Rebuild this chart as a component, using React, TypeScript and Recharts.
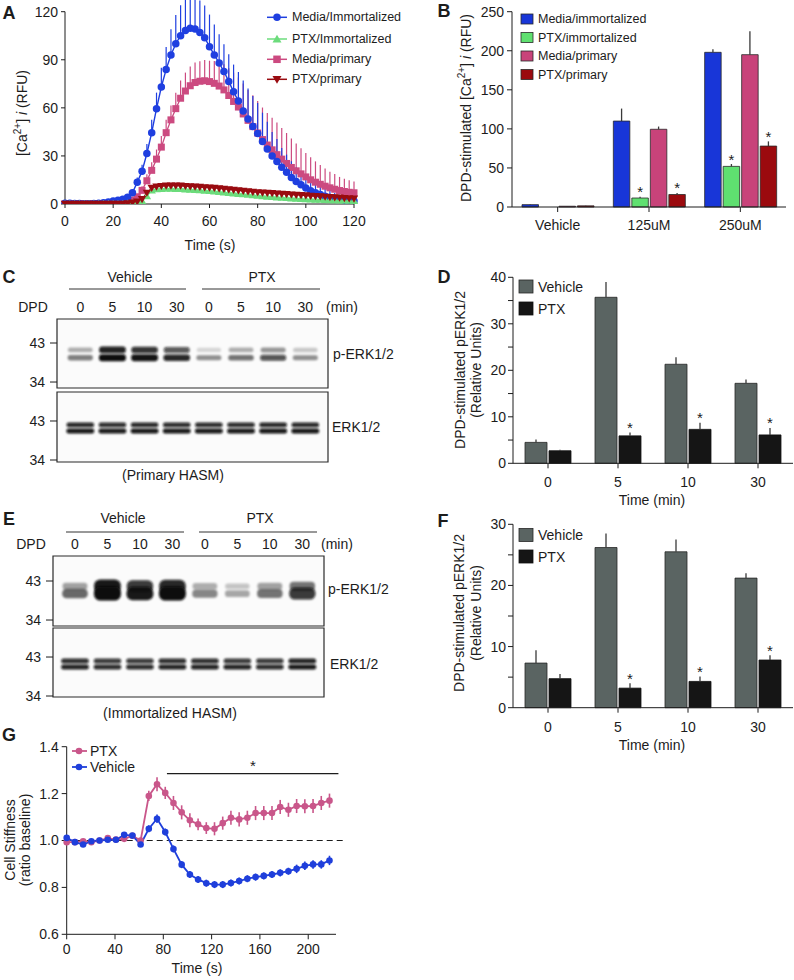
import React from 'react';
import {
  LineChart, Line, BarChart, Bar, XAxis, YAxis, ErrorBar, ScatterChart, Scatter,
  ReferenceArea, ReferenceLine, LabelList,
} from 'recharts';

const FONT = '"Liberation Sans", Arial, Helvetica, sans-serif';
const INK = '#1c1c1c';

// ---------------- Panel A: [Ca2+]i time course ----------------
const timeA = [0,2,4,6,8,10,12,14,16,18,20,22,24,26,28,30,32,34,36,38,40,42,44,46,48,50,52,54,56,58,60,62,64,66,68,70,72,74,76,78,80,82,84,86,88,90,92,94,96,98,100,102,104,106,108,110,112,114,116,118,120];
const mediaImmA = [0.5,0.5,0.3,0.3,0.2,0.2,0.3,0.4,0.8,1.3,1.8,2.4,3.0,4.2,7,13.5,20.5,31.5,44.5,59.5,73,84,93,100,105,108.3,109.6,109.2,107,103.8,98.2,93,88,82.7,76.5,70,64.3,58,53,48.4,44,39,34.3,30,26.5,23,19.8,16.6,14,12,10,8.3,7,5.9,4.9,4.1,3.4,2.9,2.5,2.1,1.8];
const mediaImmErrA = [0.8,0.8,0.8,0.8,0.8,0.8,0.8,0.8,0.8,0.8,0.8,0.8,0.8,0.8,1.5,3,4,6,8,10,12,14,16,18,19,20,20,20,20,20,20,19,18,17,17,17,18,19,19,19,19,18,17,15,14,12,11,10,9,8,7,6,5.5,5,4.5,4,3.5,3,3,2.5,2];
const ptxImmA = [0,0,0,0,0,0,0,0,0,0,0,0,0,0.2,0.5,1,2,5,8.5,9.3,9.5,9.6,9.6,9.5,9.4,9.2,9,8.8,8.6,8.4,8.2,7.9,7.6,7.3,7,6.7,6.4,6.1,5.8,5.5,5.2,4.9,4.6,4.4,4.2,4.0,3.8,3.6,3.4,3.2,3.0,2.9,2.8,2.7,2.6,2.5,2.4,2.3,2.2,2.1,2.0];
const ptxImmErrA = [0.4,0.4,0.4,0.4,0.4,0.4,0.4,0.4,0.4,0.4,0.4,0.4,0.4,0.4,0.4,0.4,0.4,0.9,0.9,0.9,0.9,0.9,0.9,0.9,0.9,0.9,0.9,0.9,0.9,0.9,0.9,0.9,0.9,0.9,0.9,0.9,0.9,0.9,0.9,0.9,0.9,0.9,0.9,0.9,0.9,0.9,0.9,0.9,0.9,0.9,0.9,0.9,0.9,0.9,0.9,0.9,0.9,0.9,0.9,0.9,0.9];
const mediaPrimA = [0,0,0,0,0,0,0,0,0,0,0,0,0.3,1,2.5,4.5,8.5,14.5,21,28,35.5,44.5,52.5,59.5,66,70.5,73.8,75.8,76.6,76.9,76.4,75.3,73.6,71.2,67.7,64,60.5,56.2,52.2,48.3,44.3,40.2,36.8,33.8,30.8,28,25.3,22.8,20.7,18.8,16.9,15.1,13.6,12.3,11.1,10.1,9.2,8.4,7.8,7.3,7.0];
const mediaPrimErrA = [0.8,0.8,0.8,0.8,0.8,0.8,0.8,0.8,0.8,0.8,0.8,0.8,0.8,0.8,0.8,1.5,2.5,4,5,6,7,8,9,10,11,11.5,12,12.5,12.5,13,13,14,15,16,17,18,18.5,19,19,19.5,20,20,20,20,20,19.5,19,18,17,16,15,14,13,12,11,10,9.5,8.5,8,7.5,7];
const ptxPrimA = [0,0,0,0,0,0,0,0,0,0,0,0,0,0.3,0.8,1.5,3,7,10,10.8,11.2,11.4,11.5,11.5,11.4,11.2,11,10.8,10.6,10.4,10.2,10,9.7,9.4,9.1,8.8,8.5,8.2,7.9,7.6,7.3,7.1,6.9,6.7,6.5,6.3,6.1,5.9,5.7,5.5,5.3,5.1,4.9,4.7,4.5,4.3,4.1,3.9,3.7,3.5,3.3];
const ptxPrimErrA = [0.4,0.4,0.4,0.4,0.4,0.4,0.4,0.4,0.4,0.4,0.4,0.4,0.4,0.4,0.4,0.4,0.4,1,1,1,1,1,1,1,1,1,1,1,1,1,1,1,1,1,1,1,1,1,1,1,1,1,1,1,1,1,1,1,1,1,1,1,1,1,1,1,1,1,1,1,1];
const ticksTimeA = [0, 20, 40, 60, 80, 100, 120];
const ticksCaA = [0, 30, 60, 90, 120];

// ---------------- Panel B: DPD-stimulated [Ca2+]i ----------------
const doseB = ['Vehicle', '125uM', '250uM'];
const mediaImmB = [3, 110, 198];
const mediaImmErrB = [0.5, 16, 4];
const ptxImmB = [0, 11.5, 52];
const ptxImmErrB = [0, 1.5, 3];
const mediaPrimB = [1, 99.5, 195];
const mediaPrimErrB = [0.3, 3.5, 30];
const ptxPrimB = [1.5, 16, 78];
const ptxPrimErrB = [0.3, 2, 6];
const ptxImmSigB = [false, true, true];
const ptxPrimSigB = [false, true, true];
const ticksB = [0, 50, 100, 150, 200, 250];

// ---------------- Panels D / F: pERK quantification ----------------
const timeMin = ['0', '5', '10', '30'];
const vehicleD = [4.5, 35.7, 21.3, 17.2];
const vehicleErrD = [0.6, 3.3, 1.5, 0.8];
const ptxD = [2.7, 5.9, 7.3, 6.1];
const ptxErrD = [0.2, 0.7, 1.4, 1.5];
const ptxSigD = [false, true, true, true];
const vehicleF = [7.3, 26.2, 25.5, 21.2];
const vehicleErrF = [2.1, 2.3, 2.0, 0.8];
const ptxF = [4.75, 3.2, 4.3, 7.8];
const ptxErrF = [0.75, 0.8, 0.8, 0.8];
const ptxSigF = [false, true, true, true];
const ticksD = [0, 5, 10, 15, 20, 25, 30, 35, 40];
const ticksF = [0, 5, 10, 15, 20, 25, 30];

// ---------------- Panels C / E: western blots ----------------
const laneLabels = ['0', '5', '10', '30', '0', '5', '10', '30'];
const laneIds = [1, 2, 3, 4, 5, 6, 7, 8];
const mwTicks = [34, 43];
const cPErkUpper = [0.25, 0.9, 0.82, 0.65, 0.08, 0.25, 0.35, 0.14];
const cPErkLower = [0.45, 1.0, 0.97, 0.88, 0.38, 0.5, 0.68, 0.38];
const cErkUpper = [0.88, 0.85, 0.87, 0.86, 0.86, 0.86, 0.88, 0.87];
const cErkLower = [0.95, 0.93, 0.95, 0.94, 0.94, 0.94, 0.95, 0.95];
const ePErkUpper = [0.3, 0.95, 0.8, 0.88, 0.25, 0.15, 0.3, 0.5];
const ePErkLower = [0.55, 1.0, 0.95, 1.0, 0.42, 0.28, 0.5, 0.8];
const eErkUpper = [0.85, 0.8, 0.8, 0.85, 0.85, 0.8, 0.8, 0.9];
const eErkLower = [0.9, 0.86, 0.86, 0.9, 0.9, 0.9, 0.86, 0.95];
// apparent band positions on each blot (kDa scale)
const cPErkMw = [41.4, 39.6];
const cErkMw = [42.1, 40.7];
const ePErkMw = [41.8, 40.1];
const eErkMw = [42.1, 40.7];

// ---------------- Panel G: cell stiffness ----------------
const timeG = [0,6.8,13.6,20.4,27.2,34,40.8,47.6,54.4,61.2,68,74.8,81.6,88.4,95.2,102,108.8,115.6,122.4,129.2,136,142.8,149.6,156.4,163.2,170,176.8,183.6,190.4,197.2,204,210.8,217.6];
const ptxG = [0.993,0.993,0.997,0.993,1.0,1.01,1.004,1.007,1.02,1.0,1.19,1.24,1.203,1.16,1.12,1.086,1.069,1.053,1.05,1.074,1.097,1.09,1.097,1.117,1.117,1.117,1.143,1.131,1.147,1.146,1.147,1.16,1.17];
const ptxErrG = [0.006,0.006,0.006,0.006,0.006,0.008,0.008,0.008,0.01,0.01,0.022,0.03,0.026,0.03,0.03,0.03,0.025,0.025,0.028,0.028,0.03,0.03,0.03,0.03,0.03,0.03,0.03,0.03,0.03,0.03,0.03,0.03,0.03];
const vehicleG = [1.011,0.993,0.983,0.997,1.0,1.003,1.003,1.024,1.021,0.983,1.05,1.093,1.036,0.964,0.897,0.855,0.834,0.818,0.812,0.812,0.819,0.827,0.837,0.844,0.849,0.855,0.862,0.869,0.879,0.892,0.898,0.898,0.915];
const vehicleErrG = [0.008,0.006,0.006,0.006,0.006,0.006,0.008,0.008,0.01,0.01,0.015,0.018,0.015,0.015,0.015,0.015,0.015,0.015,0.015,0.015,0.015,0.015,0.015,0.015,0.015,0.015,0.015,0.015,0.018,0.018,0.018,0.018,0.02];
const ticksTimeG = [0, 40, 80, 120, 160, 200];
const ticksStiff = [0.6, 0.8, 1.0, 1.2, 1.4];

// ---------------- colours ----------------
const BLUE = '#1f3fe0';
const GREEN = '#6cdc7c';
const PINK = '#cc4a80';
const DRED = '#990b10';
const B_BLUE = '#1836d8';
const B_GREEN = '#5fe070';
const B_PINK = '#c8437a';
const B_RED = '#9b0a0e';
const GRAYBAR = '#5a6462';
const BLACKBAR = '#151515';
const G_PINK = '#c9568a';
const G_BLUE = '#1f3fdb';

const tickStyle = { fontSize: 14, fill: INK, fontFamily: FONT };
const axisLine = { stroke: INK, strokeWidth: 1 };

// ---------------- data tables ----------------
const rowsA = timeA.map((t, i) => ({
  t,
  mi: mediaImmA[i], miE: [0, mediaImmErrA[i]],
  pi: ptxImmA[i], piE: [0, ptxImmErrA[i]],
  mp: mediaPrimA[i], mpE: [0, mediaPrimErrA[i]],
  pp: ptxPrimA[i], ppE: [0, ptxPrimErrA[i]],
}));
const rowsB = doseB.map((d, i) => ({
  d,
  mi: mediaImmB[i], miE: [0, mediaImmErrB[i]],
  pi: ptxImmB[i], piE: [0, ptxImmErrB[i]],
  mp: mediaPrimB[i], mpE: [0, mediaPrimErrB[i]],
  pp: ptxPrimB[i], ppE: [0, ptxPrimErrB[i]],
}));
const rowsD = timeMin.map((m, i) => ({ m, v: vehicleD[i], vE: [0, vehicleErrD[i]], p: ptxD[i], pE: [0, ptxErrD[i]] }));
const rowsF = timeMin.map((m, i) => ({ m, v: vehicleF[i], vE: [0, vehicleErrF[i]], p: ptxF[i], pE: [0, ptxErrF[i]] }));
const rowsG = timeG.map((t, i) => ({ t, p: ptxG[i], pE: ptxErrG[i], v: vehicleG[i], vE: vehicleErrG[i] }));

const bandPoints = (upper: number[], lower: number[], mw: number[]) => [
  ...laneIds.map((lane, i) => ({ lane, mw: mw[0], a: upper[i] })),
  ...laneIds.map((lane, i) => ({ lane, mw: mw[1], a: lower[i] })),
];

// ---------------- marker shapes ----------------
const markerPath = (shape: string, cx: number, cy: number, s: number) => {
  if (shape === 'up') return `M${cx},${cy - s * 0.58}L${cx + s * 0.6},${cy + s * 0.45}L${cx - s * 0.6},${cy + s * 0.45}Z`;
  return `M${cx},${cy + s * 0.58}L${cx + s * 0.6},${cy - s * 0.45}L${cx - s * 0.6},${cy - s * 0.45}Z`;
};
const Marker = ({ shape, cx, cy, s, color }: any) => {
  if (shape === 'circle') return <circle cx={cx} cy={cy} r={s / 2} fill={color} />;
  if (shape === 'square') return <rect x={cx - s / 2} y={cy - s / 2} width={s} height={s} fill={color} />;
  return <path d={markerPath(shape, cx, cy, s)} fill={color} />;
};
const mkDot = (shape: string, color: string, s: number) => (p: any) => {
  const { cx, cy, index } = p;
  if (cx == null || cy == null || isNaN(cy)) return <g key={`e${shape}${index}`} />;
  return <g key={`${shape}${index}`}><Marker shape={shape} cx={cx} cy={cy} s={s} color={color} /></g>;
};

// asterisk above error bar, using the bar's own pixel scale
const starLabel = (values: number[], errs: number[], sig: boolean[]) => (props: any) => {
  const vb = props.viewBox || props;
  const x = vb.x ?? props.x, y0 = vb.y ?? props.y, w = vb.width ?? props.width, h = vb.height ?? props.height;
  const idx = values.indexOf(Number(props.value));
  if (idx < 0 || !sig[idx]) return null;
  const v = values[idx];
  const top = Math.min(y0, y0 + h);
  const pxPer = v ? Math.abs(h) / v : 0;
  const eTop = top - errs[idx] * pxPer;
  return (
    <text key={`st${idx}`} x={x + w / 2} y={eTop + 0.5} textAnchor="middle" fontSize={15} fill={INK} fontFamily={FONT}>*</text>
  );
};

// blot band shape
const mkBand = (base: number, gain: number, width: number) => (p: any) => {
  const { cx, cy, payload } = p;
  if (cx == null || cy == null) return <g />;
  const a = payload.a;
  const h = base + gain * a;
  const w = width + 3 * a;
  return (
    <rect x={cx - w / 2} y={cy - h / 2} width={w} height={h} rx={h / 2.2}
      fill="#0b0b0b" fillOpacity={0.08 + 0.92 * a} filter="url(#bandBlur)" />
  );
};

// ---------------- charts ----------------
function PanelA() {
  return (
    <LineChart width={400} height={250} data={rowsA} margin={{ top: 11.7, right: 46, bottom: 16, left: 0 }}>
      <XAxis dataKey="t" type="number" domain={[0, 120]} ticks={ticksTimeA} tick={tickStyle}
        axisLine={axisLine} tickLine={axisLine} tickSize={4} tickMargin={8} height={30} />
      <YAxis type="number" domain={[0, 120]} ticks={ticksCaA} allowDataOverflow tick={tickStyle}
        axisLine={axisLine} tickLine={axisLine} tickSize={4} tickMargin={3} width={65} />
      <Line dataKey="mp" stroke={PINK} strokeWidth={1.3} dot={mkDot('square', PINK, 7)} isAnimationActive={false}>
        <ErrorBar dataKey="mpE" width={0} stroke={PINK} strokeWidth={1.2} direction="y" />
      </Line>
      <Line dataKey="mi" stroke={BLUE} strokeWidth={1.4} dot={mkDot('circle', BLUE, 7.5)} isAnimationActive={false}>
        <ErrorBar dataKey="miE" width={0} stroke={BLUE} strokeWidth={1.2} direction="y" />
      </Line>
      <Line dataKey="pi" stroke={GREEN} strokeWidth={1.3} dot={mkDot('up', GREEN, 7)} isAnimationActive={false}>
        <ErrorBar dataKey="piE" width={0} stroke={GREEN} strokeWidth={1} direction="y" />
      </Line>
      <Line dataKey="pp" stroke={DRED} strokeWidth={1.3} dot={mkDot('down', DRED, 7)} isAnimationActive={false}>
        <ErrorBar dataKey="ppE" width={0} stroke={DRED} strokeWidth={1} direction="y" />
      </Line>
    </LineChart>
  );
}

function PanelB() {
  const bar = (key: string, errKey: string, color: string, vals: number[], errs: number[], sig: boolean[] | null) => (
    <Bar dataKey={key} fill={color} stroke="#2a2a2a" strokeWidth={0.8} isAnimationActive={false}>
      <ErrorBar dataKey={errKey} width={0} stroke="#3a3a3a" strokeWidth={1.3} direction="y" />
      {sig && <LabelList dataKey={key} content={starLabel(vals, errs, sig)} />}
    </Bar>
  );
  return (
    <BarChart width={394} height={250} data={rowsB} margin={{ top: 11.7, right: 8, bottom: 13, left: 0 }}
      barSize={16.5} barGap={2}>
      <XAxis dataKey="d" tick={tickStyle} axisLine={axisLine} tickLine={axisLine} tickSize={5} tickMargin={8} height={30} />
      <YAxis type="number" domain={[0, 250]} ticks={ticksB} tick={tickStyle}
        axisLine={axisLine} tickLine={axisLine} tickSize={5} tickMargin={3} width={112} />
      {bar('mi', 'miE', B_BLUE, mediaImmB, mediaImmErrB, null)}
      {bar('pi', 'piE', B_GREEN, ptxImmB, ptxImmErrB, ptxImmSigB)}
      {bar('mp', 'mpE', B_PINK, mediaPrimB, mediaPrimErrB, null)}
      {bar('pp', 'ppE', B_RED, ptxPrimB, ptxPrimErrB, ptxPrimSigB)}
    </BarChart>
  );
}

function ErkBars({ rows, ptx, ptxErr, sig, max, ticks, height, top, bottom }: any) {
  return (
    <BarChart width={394} height={height} data={rows} margin={{ top, right: 1, bottom, left: 0 }} barSize={22} barGap={2}>
      <XAxis dataKey="m" tick={tickStyle} axisLine={axisLine} tickLine={axisLine} tickSize={5} tickMargin={9} height={30} />
      <YAxis type="number" domain={[0, max]} ticks={ticks} tick={tickStyle}
        tickFormatter={(v: number) => (v % 10 === 0 ? String(v) : '')}
        axisLine={axisLine} tickLine={axisLine} tickSize={5} tickMargin={2} width={113} />
      <Bar dataKey="v" fill={GRAYBAR} stroke="#262626" strokeWidth={0.8} isAnimationActive={false}>
        <ErrorBar dataKey="vE" width={0} stroke="#3a3a3a" strokeWidth={1.3} direction="y" />
      </Bar>
      <Bar dataKey="p" fill={BLACKBAR} stroke="#111" strokeWidth={0.8} isAnimationActive={false}>
        <ErrorBar dataKey="pE" width={0} stroke="#3a3a3a" strokeWidth={1.3} direction="y" />
        <LabelList dataKey="p" content={starLabel(ptx, ptxErr, sig)} />
      </Bar>
    </BarChart>
  );
}

function Blot({ width, height, top, bottom, left, xDom, yDom, points, showLanes, band }: any) {
  return (
    <ScatterChart width={width} height={height} margin={{ top, right: width - xDom.right, bottom, left: 0 }}>
      {showLanes ? (
        <XAxis type="number" dataKey="lane" orientation="top" domain={xDom.d} allowDataOverflow ticks={laneIds}
          tickFormatter={(v: number) => laneLabels[v - 1]} tick={tickStyle}
          axisLine={false} tickLine={false} tickSize={0} tickMargin={7} height={20} />
      ) : (
        <XAxis type="number" dataKey="lane" domain={xDom.d} allowDataOverflow hide />
      )}
      <YAxis type="number" dataKey="mw" domain={yDom} allowDataOverflow ticks={mwTicks} tick={tickStyle}
        axisLine={false} tickLine={axisLine} tickSize={7} tickMargin={5} width={left} />
      <ReferenceArea x1={xDom.d[0]} x2={xDom.d[1]} y1={yDom[0]} y2={yDom[1]} fill="#fbfbfb" fillOpacity={1}
        stroke="#2a2a2a" strokeWidth={1.2} ifOverflow="visible" />
      <Scatter data={points} shape={band} isAnimationActive={false} />
    </ScatterChart>
  );
}

function PanelG() {
  const dot = (color: string) => (p: any) => {
    const { cx, cy, index } = p;
    if (cx == null || cy == null) return <g key={`g${index}`} />;
    return <circle key={`g${color}${index}`} cx={cx} cy={cy} r={3.3} fill={color} />;
  };
  return (
    <LineChart width={400} height={260} data={rowsG} margin={{ top: 26.7, right: 64, bottom: 15.7, left: 0 }}>
      <XAxis dataKey="t" type="number" domain={[0, 223]} ticks={ticksTimeG} tick={tickStyle}
        axisLine={axisLine} tickLine={axisLine} tickSize={5} tickMargin={5} height={30} />
      <YAxis type="number" domain={[0.6, 1.4]} ticks={ticksStiff} tick={tickStyle}
        tickFormatter={(v: number) => v.toFixed(1)}
        axisLine={axisLine} tickLine={axisLine} tickSize={5} tickMargin={3} width={66.7} />
      <ReferenceLine segment={[{ x: 0, y: 1.0 }, { x: 229, y: 1.0 }]} stroke={INK} strokeWidth={1.2}
        strokeDasharray="6 4" ifOverflow="visible" />
      <ReferenceLine segment={[{ x: 83, y: 1.285 }, { x: 225, y: 1.285 }]} stroke={INK} strokeWidth={1.3}
        ifOverflow="visible" />
      <Line dataKey="p" stroke={G_PINK} strokeWidth={1.8} dot={dot(G_PINK)} isAnimationActive={false}>
        <ErrorBar dataKey="pE" width={0} stroke={G_PINK} strokeWidth={1.6} direction="y" />
      </Line>
      <Line dataKey="v" stroke={G_BLUE} strokeWidth={1.8} dot={dot(G_BLUE)} isAnimationActive={false}>
        <ErrorBar dataKey="vE" width={0} stroke={G_BLUE} strokeWidth={1.6} direction="y" />
      </Line>
    </LineChart>
  );
}

// ---------------- overlay text ----------------
const T = ({ x, y, children, size = 14, anchor = 'middle', weight = 'normal', rot = false }: any) => (
  <text x={x} y={y} fontSize={size} textAnchor={anchor} fontWeight={weight} dominantBaseline="central"
    fill={INK} fontFamily={FONT} transform={rot ? `rotate(-90 ${x} ${y})` : undefined}>{children}</text>
);
const CaLabel = ({ prefix }: any) => (
  <>
    {prefix}[Ca<tspan dy={-5} fontSize={10}>2+</tspan><tspan dy={5}>] </tspan><tspan fontStyle="italic">i</tspan> (RFU)
  </>
);

function Overlay() {
  const legA = [
    { name: 'Media/Immortalized', color: BLUE, shape: 'circle', y: 17.3 },
    { name: 'PTX/Immortalized', color: GREEN, shape: 'up', y: 39 },
    { name: 'Media/primary', color: PINK, shape: 'square', y: 59.3 },
    { name: 'PTX/primary', color: DRED, shape: 'down', y: 79.3 },
  ];
  const legB = [
    { name: 'Media/immortalized', color: B_BLUE, y: 19 },
    { name: 'PTX/immortalized', color: B_GREEN, y: 37.5 },
    { name: 'Media/primary', color: B_PINK, y: 56 },
    { name: 'PTX/primary', color: B_RED, y: 74.5 },
  ];
  const erkLeg = (y1: number, y2: number) => (
    <>
      <rect x={519} y={y1 - 6.5} width={14} height={13} fill={GRAYBAR} stroke="#262626" strokeWidth={0.8} />
      <T x={538} y={y1} anchor="start">Vehicle</T>
      <rect x={519} y={y2 - 6.5} width={14} height={13} fill={BLACKBAR} stroke="#111" strokeWidth={0.8} />
      <T x={538} y={y2} anchor="start">PTX</T>
    </>
  );
  const header = (yT: number, yLine: number, yD: number, v: any, p: any, dpdX: number, minX: number) => (
    <>
      <T x={v.cx} y={yT}>Vehicle</T>
      <T x={p.cx} y={yT}>PTX</T>
      <line x1={v.x1} x2={v.x2} y1={yLine} y2={yLine} stroke="#333" strokeWidth={1} />
      <line x1={p.x1} x2={p.x2} y1={yLine} y2={yLine} stroke="#333" strokeWidth={1} />
      <T x={dpdX} y={yD}>DPD</T>
      <T x={minX} y={yD}>(min)</T>
    </>
  );
  return (
    <svg width={794} height={980} style={{ position: 'absolute', left: 0, top: 0, pointerEvents: 'none' }}>
      {/* panel letters */}
      <T x={9} y={12.5} size={18} weight="bold">A</T>
      <T x={444} y={11} size={18} weight="bold">B</T>
      <T x={9} y={277} size={18} weight="bold">C</T>
      <T x={444} y={277} size={18} weight="bold">D</T>
      <T x={9} y={519} size={18} weight="bold">E</T>
      <T x={443} y={521} size={18} weight="bold">F</T>
      <T x={9} y={735} size={18} weight="bold">G</T>

      {/* A */}
      <T x={22} y={113} rot><CaLabel prefix="" /></T>
      <T x={210} y={245}>Time (s)</T>
      {legA.map((l) => (
        <g key={l.name}>
          <line x1={267} x2={287} y1={l.y} y2={l.y} stroke={l.color} strokeWidth={1.5} />
          <Marker shape={l.shape} cx={277} cy={l.y} s={7.5} color={l.color} />
          <T x={292} y={l.y} size={12.5} anchor="start">{l.name}</T>
        </g>
      ))}

      {/* B */}
      <T x={466} y={108} rot><CaLabel prefix="DPD-stimulated " /></T>
      {legB.map((l) => (
        <g key={l.name}>
          <rect x={521} y={l.y - 5} width={12} height={10} fill={l.color} stroke="#2a2a2a" strokeWidth={0.8} />
          <T x={538} y={l.y} size={12.5} anchor="start">{l.name}</T>
        </g>
      ))}

      {/* C */}
      {header(277, 289, 307, { cx: 130, x1: 69, x2: 186 }, { cx: 262, x1: 202, x2: 320 }, 33, 342)}
      <T x={333} y={354} anchor="start">p-ERK1/2</T>
      <T x={332} y={427} anchor="start">ERK1/2</T>
      <T x={173} y={475}>(Primary HASM)</T>

      {/* D */}
      <T x={460} y={370} rot>DPD-stimulated pERK1/2</T>
      <T x={476} y={370} rot>(Relative Units)</T>
      <T x={652} y={500}>Time (min)</T>
      {erkLeg(286.5, 308.5)}

      {/* E */}
      {header(518, 532, 544, { cx: 123, x1: 66, x2: 184 }, { cx: 260, x1: 199, x2: 317 }, 31, 337)}
      <T x={328} y={589} anchor="start">p-ERK1/2</T>
      <T x={330} y={664} anchor="start">ERK1/2</T>
      <T x={170} y={713}>(Immortalized HASM)</T>

      {/* F */}
      <T x={459} y={613} rot>DPD-stimulated pERK1/2</T>
      <T x={476} y={613} rot>(Relative Units)</T>
      <T x={652} y={745}>Time (min)</T>
      {erkLeg(535, 556.5)}

      {/* G */}
      <T x={10} y={840} rot>Cell Stiffness</T>
      <T x={25} y={840} rot>(ratio baseline)</T>
      <T x={197} y={968}>Time (s)</T>
      <T x={253} y={765} size={15}>*</T>
      <line x1={72} x2={87} y1={751} y2={751} stroke={G_PINK} strokeWidth={1.8} />
      <circle cx={79} cy={751} r={3.3} fill={G_PINK} />
      <T x={90} y={751} anchor="start">PTX</T>
      <line x1={72} x2={87} y1={767} y2={767} stroke={G_BLUE} strokeWidth={1.8} />
      <circle cx={79} cy={767} r={3.3} fill={G_BLUE} />
      <T x={90} y={767} anchor="start">Vehicle</T>
    </svg>
  );
}

const abs = (left: number, top: number): React.CSSProperties => ({ position: 'absolute', left, top });

export default function App() {
  const cX = { d: [0.275, 8.706], right: 328 };
  const eX = { d: [0.323, 8.668], right: 324 };
  return (
    <div style={{ position: 'absolute', left: 0, top: 0, width: 794, height: 980, background: '#fff', fontFamily: FONT }}>
      <svg width={0} height={0} style={{ position: 'absolute' }}>
        <defs>
          <filter id="bandBlur" x="-30%" y="-150%" width="160%" height="400%">
            <feGaussianBlur stdDeviation="1.1" />
          </filter>
        </defs>
      </svg>
      <div style={abs(0, 0)}><PanelA /></div>
      <div style={abs(400, 0)}><PanelB /></div>
      <div style={abs(0, 295)}>
        <Blot width={400} height={100} top={4} bottom={7} left={57} xDom={cX} yDom={[32.62, 48.54]}
          points={bandPoints(cPErkUpper, cPErkLower, cPErkMw)} showLanes band={mkBand(4, 3, 24)} />
      </div>
      <div style={abs(0, 385)}>
        <Blot width={400} height={85} top={7} bottom={8} left={57} xDom={cX} yDom={[33.54, 49.69]}
          points={bandPoints(cErkUpper, cErkLower, cErkMw)} showLanes={false} band={mkBand(4, 1, 25)} />
      </div>
      <div style={abs(0, 532)}>
        <Blot width={400} height={100} top={4} bottom={6} left={53} xDom={eX} yDom={[32.62, 48.77]}
          points={bandPoints(ePErkUpper, ePErkLower, ePErkMw)} showLanes band={mkBand(4, 10, 24)} />
      </div>
      <div style={abs(0, 620)}>
        <Blot width={400} height={85} top={8} bottom={8} left={53} xDom={eX} yDom={[33.77, 49.7]}
          points={bandPoints(eErkUpper, eErkLower, eErkMw)} showLanes={false} band={mkBand(4, 1.2, 25)} />
      </div>
      <div style={abs(400, 250)}>
        <ErkBars rows={rowsD} ptx={ptxD} ptxErr={ptxErrD} sig={ptxSigD} max={40} ticks={ticksD}
          height={250} top={27.3} bottom={6.7} />
      </div>
      <div style={abs(400, 500)}>
        <ErkBars rows={rowsF} ptx={ptxF} ptxErr={ptxErrF} sig={ptxSigF} max={30} ticks={ticksF}
          height={240} top={24.3} bottom={2.3} />
      </div>
      <div style={abs(0, 720)}><PanelG /></div>
      <Overlay />
    </div>
  );
}
